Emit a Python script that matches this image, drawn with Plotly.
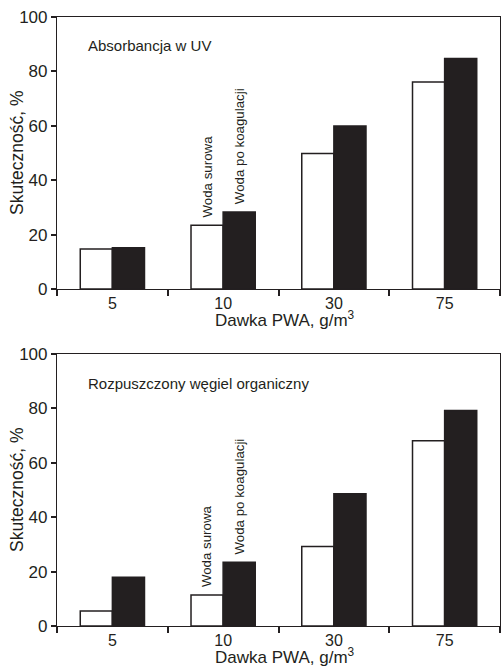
import plotly.graph_objects as go

categories = ["5", "10", "30", "75"]
uv_raw = [14.7, 23.4, 49.8, 76.1]
uv_coag = [15.2, 28.3, 59.9, 84.7]
doc_raw = [5.5, 11.4, 29.2, 68.1]
doc_coag = [17.9, 23.4, 48.6, 79.2]
y_ticks = [0, 20, 40, 60, 80, 100]

INK = "#231f20"
FONT = "Liberation Sans, Arial, sans-serif"

fig = go.Figure()

def add_pair(raw, coag, xa, ya):
    fig.add_trace(go.Bar(x=categories, y=raw, xaxis=xa, yaxis=ya, name="Woda surowa",
                         marker=dict(color="white", line=dict(color=INK, width=1.5)),
                         showlegend=False))
    fig.add_trace(go.Bar(x=categories, y=coag, xaxis=xa, yaxis=ya, name="Woda po koagulacji",
                         marker=dict(color=INK, line=dict(color=INK, width=1.5)),
                         showlegend=False))

add_pair(uv_raw, uv_coag, "x", "y")
add_pair(doc_raw, doc_coag, "x2", "y2")

axis_common = dict(showline=True, linecolor=INK, linewidth=1.2, mirror=True,
                   ticks="outside", tickcolor=INK, tickwidth=1.5,
                   showgrid=False, zeroline=False)
x_style = dict(ticklen=6, tickfont=dict(family=FONT, size=16, color=INK), **axis_common)
y_style = dict(ticklen=5, tickfont=dict(family=FONT, size=17, color=INK), **axis_common)

top_dom = [(626 - 289) / 609, 1.0]
bot_dom = [0.0, (626 - 354) / 609]
x_range = [-0.5, len(categories) - 0.5]

fig.update_layout(
    width=501, height=668,
    margin=dict(l=57, r=1, t=17, b=42),
    paper_bgcolor="white", plot_bgcolor="white",
    barmode="group", bargap=0.42, bargroupgap=0.0,
    font=dict(family=FONT, color=INK),
    xaxis=dict(domain=[0, 1], anchor="y", type="category", tickson="boundaries",
               categoryorder="array", categoryarray=categories, range=x_range, **x_style),
    yaxis=dict(domain=top_dom, anchor="x", range=[0, 100], tickvals=y_ticks, **y_style),
    xaxis2=dict(domain=[0, 1], anchor="y2", type="category", tickson="boundaries",
                categoryorder="array", categoryarray=categories, range=x_range, **x_style),
    yaxis2=dict(domain=bot_dom, anchor="x2", range=[0, 100], tickvals=y_ticks, **y_style),
)

ann = []
for xr, yr, title, raw, coag, ty in [("x", "y", "Absorbancja w UV", uv_raw, uv_coag, 0.8945),
                                     ("x2", "y2", "Rozpuszczony węgiel organiczny", doc_raw, doc_coag, 0.893)]:
    ann.append(dict(text=title, xref=f"{xr} domain", yref=f"{yr} domain", x=0.065, y=ty,
                    xanchor="left", yanchor="middle", showarrow=False,
                    font=dict(family=FONT, size=15, color=INK)))
    ann.append(dict(text="Skuteczność, %", xref="paper", yref=f"{yr} domain", x=(17 - 57) / 443, y=0.5,
                    xanchor="center", yanchor="middle", textangle=-90, showarrow=False,
                    font=dict(family=FONT, size=17.5, color=INK)))
    ann.append(dict(text="Dawka PWA, g/m<sup>3</sup>", xref=f"{xr} domain", yref=f"{yr} domain",
                    x=0.515, y=-0.112, xanchor="center", yanchor="middle", showarrow=False,
                    font=dict(family=FONT, size=17, color=INK)))
    ann.append(dict(text="Woda surowa", xref=xr, yref=yr, x=1, y=raw[1],
                    xshift=-16, yshift=6, xanchor="center", yanchor="bottom", textangle=-90,
                    showarrow=False, font=dict(family=FONT, size=13.3, color=INK)))
    ann.append(dict(text="Woda po koagulacji", xref=xr, yref=yr, x=1, y=coag[1],
                    xshift=16, yshift=6, xanchor="center", yanchor="bottom", textangle=-90,
                    showarrow=False, font=dict(family=FONT, size=13.3, color=INK)))

fig.update_layout(annotations=ann)
fig.write_html("out.html", config={"displayModeBar": False},
               post_script="document.body.style.margin='0';")
